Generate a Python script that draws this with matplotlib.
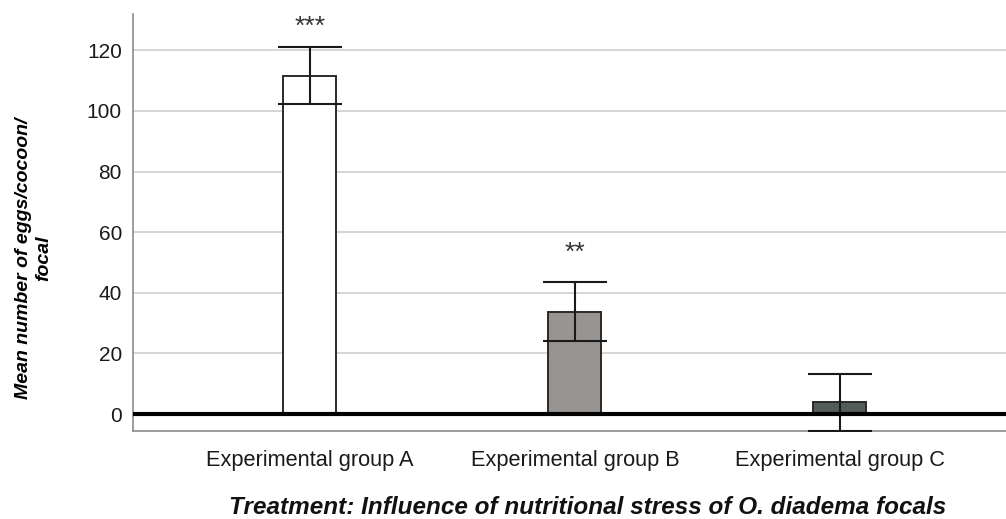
import matplotlib
matplotlib.use("Agg")
import matplotlib.pyplot as plt
import numpy as np

# Treatment groups and summary statistics
groups = ["Experimental group A", "Experimental group B", "Experimental group C"]
means = [111.7, 33.8, 3.8]
errors = [9.3, 9.6, 9.4]
significance = ["***", "**", ""]
bar_colors = ["#ffffff", "#989492", "#525d57"]
yticks = [0, 20, 40, 60, 80, 100, 120]

plt.rcParams["font.family"] = ["Liberation Sans", "DejaVu Sans"]

fig = plt.figure(figsize=(10.06, 5.19), dpi=100)
ax = fig.add_axes([0.1322, 0.1696, 0.8678, 0.8034])

x = np.arange(len(groups))

# reference gridlines
for t in yticks[1:]:
    ax.axhline(t, color="#d2d2d2", lw=1.3, zorder=0)

ax.bar(x, means, width=0.2, color=bar_colors, edgecolor="#2a2a2a",
       linewidth=1.4, zorder=2)
ax.errorbar(x, means, yerr=errors, fmt="none", ecolor="#1a1a1a",
            elinewidth=1.5, capsize=23, capthick=1.5, zorder=3)

# thick zero baseline
ax.axhline(0, color="black", lw=3.0, zorder=4)

# significance markers above the error bars
star_offsets = {3: 10, 2: 16}
for xi, m, e, s in zip(x, means, errors, significance):
    if s:
        ax.annotate(s, (xi, m + e), xytext=(0, star_offsets[len(s)]),
                    textcoords="offset points", ha="center", va="baseline",
                    fontsize=19, color="#333333")

ax.set_xlim(-0.668, 2.627)
ax.set_ylim(-5.6, 132)
ax.set_yticks(yticks)
ax.set_xticks(x)
ax.set_xticklabels(groups)
ax.tick_params(axis="y", length=0, pad=8, labelsize=15, labelcolor="#1a1a1a")
ax.tick_params(axis="x", length=0, pad=14, labelsize=15.7, labelcolor="#1a1a1a")

for side in ["top", "right"]:
    ax.spines[side].set_visible(False)
for side in ["left", "bottom"]:
    ax.spines[side].set_color("#8c8c8c")
    ax.spines[side].set_linewidth(1.2)

ax.set_ylabel("Mean number of eggs/cocoon/\nfocal", fontsize=14,
              fontweight="bold", style="italic", linespacing=1.25,
              ha="center", va="center")
ax.yaxis.set_label_coords(-0.114, 0.415)

fig.text(588 / 1006, 1 - 508 / 519,
         "Treatment: Influence of nutritional stress of O. diadema focals",
         fontsize=17.5, fontweight="bold", style="italic",
         ha="center", va="center", color="#111111")

fig.savefig("out.png", dpi=100)
